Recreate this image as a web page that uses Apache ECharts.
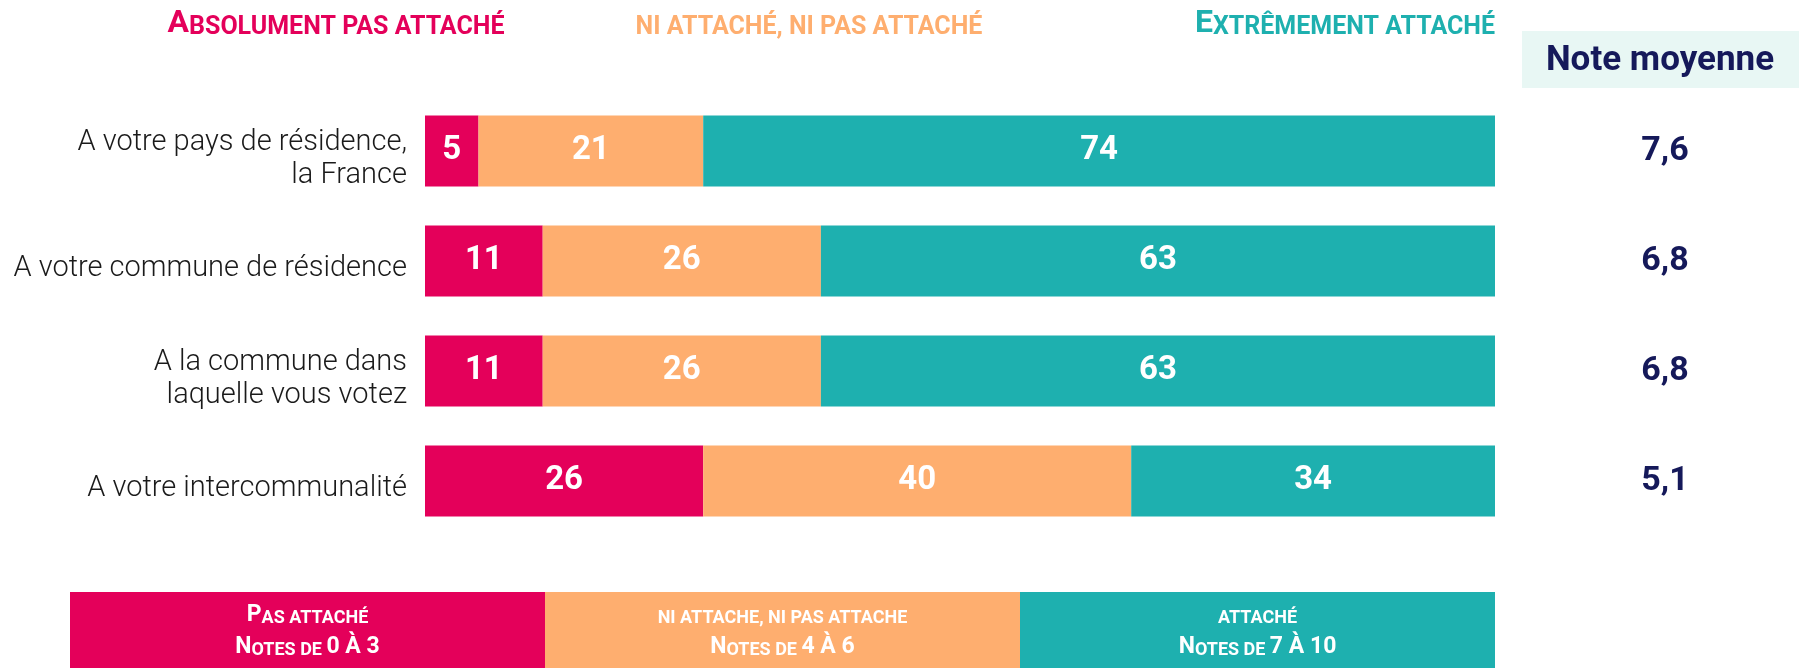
<!DOCTYPE html>
<html>
<head>
<meta charset="utf-8">
<script src="https://cdn.jsdelivr.net/npm/echarts@6/dist/echarts.min.js"></script>
<style>
html,body{margin:0;padding:0;background:#fff;}
#c{width:1799px;height:668px;}
</style>
</head>
<body>
<div id="c"></div>
<script>
const categories = [
  "A votre pays de résidence,\nla France",
  "A votre commune de résidence",
  "A la commune dans\nlaquelle vous votez",
  "A votre intercommunalité"
];
const pasAttache = [5, 11, 11, 26];
const niNi = [21, 26, 26, 40];
const attache = [74, 63, 63, 34];
const noteMoyenne = ["7,6", "6,8", "6,8", "5,1"];
const seriesNames = ["Pas attaché", "Ni attaché, ni pas attaché", "Attaché"];

const PINK = "#E4005A", ORANGE = "#FEAE6F", TEAL = "#1EB0AF", NAVY = "#15195A";
const FONT = "Roboto";

const chart = echarts.init(document.getElementById('c'), null, {renderer: 'canvas'});

function seg(name, data, color) {
  return {
    name: name, type: 'bar', stack: 'total', data: data, barWidth: 71,
    itemStyle: {color: color},
    label: {show: true, position: 'inside', color: '#fff', fontFamily: FONT,
            fontWeight: 'bold', fontSize: 33},
    emphasis: {disabled: true}, animation: false
  };
}

function capsRich(color, big, small) {
  return {
    b: {fontFamily: FONT, fontWeight: 'bold', fontSize: big, color: color, verticalAlign: 'bottom', lineHeight: big},
    s: {fontFamily: FONT, fontWeight: 'bold', fontSize: small, color: color, verticalAlign: 'bottom', lineHeight: big}
  };
}

function headerText(x, txt, color) {
  const rich = capsRich(color, 32, 25);
  return {type: 'text', x: x, y: 40, silent: true,
          style: {text: txt, rich: rich, textAlign: 'center', textVerticalAlign: 'bottom', fill: color}};
}

const boxW = 475, boxX0 = 70, boxY = 592, boxH = 76;
const boxColors = [PINK, ORANGE, TEAL];
const boxLine1 = ["{b|P}{s|AS ATTACHÉ}", "{s|NI ATTACHE, NI PAS ATTACHE}", "{s|ATTACHÉ}"];
const boxLine2 = ["{b|N}{s|OTES DE }{b|0 À 3}", "{b|N}{s|OTES DE }{b|4 À 6}", "{b|N}{s|OTES DE }{b|7 À 10}"];

const graphics = [
  headerText(336, "{b|A}{s|BSOLUMENT PAS ATTACHÉ}", PINK),
  headerText(809, "{s|NI ATTACHÉ, NI PAS ATTACHÉ}", ORANGE),
  headerText(1345, "{b|E}{s|XTRÊMEMENT ATTACHÉ}", TEAL),
  {type: 'rect', shape: {x: 1522, y: 31, width: 277, height: 57}, style: {fill: '#E8F7F4'}, silent: true},
  {type: 'text', x: 1660, y: 61, silent: true,
   style: {text: 'Note moyenne', fill: NAVY, font: 'bold 35px ' + FONT, textAlign: 'center', textVerticalAlign: 'middle'}}
];
for (let i = 0; i < 3; i++) {
  graphics.push({type: 'rect', shape: {x: boxX0 + i * boxW, y: boxY, width: boxW, height: boxH},
                 style: {fill: boxColors[i]}, silent: true});
  const rich = capsRich('#fff', 23, 18);
  graphics.push({type: 'text', x: boxX0 + i * boxW + boxW / 2, y: 627, silent: true,
                 style: {text: boxLine1[i], rich: rich, fill: '#fff', textAlign: 'center', textVerticalAlign: 'bottom'}});
  graphics.push({type: 'text', x: boxX0 + i * boxW + boxW / 2, y: 659, silent: true,
                 style: {text: boxLine2[i], rich: rich, fill: '#fff', textAlign: 'center', textVerticalAlign: 'bottom'}});
}

chart.setOption({
  animation: false,
  backgroundColor: '#fff',
  grid: {left: 425, right: 304, top: 96, height: 440, containLabel: false},
  xAxis: {type: 'value', min: 0, max: 100, show: false},
  yAxis: [
    {type: 'category', data: categories, inverse: true,
     axisLine: {show: false}, axisTick: {show: false},
     axisLabel: {margin: 18, align: 'right',
                 formatter: function (v) {
                   return '{sp| }\n' + v.split('\n').map(function (l) { return '{t|' + l + '}'; }).join('\n');
                 },
                 rich: {
                   sp: {fontSize: 10, lineHeight: 16},
                   t: {color: '#1a1a1a', fontFamily: FONT, fontWeight: 300, fontSize: 29, lineHeight: 33, align: 'right'}
                 }}},
    {type: 'category', data: noteMoyenne, inverse: true, position: 'right',
     axisLine: {show: false}, axisTick: {show: false},
     axisLabel: {margin: 170, align: 'center', color: NAVY, fontFamily: FONT, fontWeight: 'bold', fontSize: 34}}
  ],
  series: [
    seg(seriesNames[0], pasAttache, PINK),
    seg(seriesNames[1], niNi, ORANGE),
    seg(seriesNames[2], attache, TEAL)
  ],
  graphic: graphics
});
</script>
</body>
</html>
